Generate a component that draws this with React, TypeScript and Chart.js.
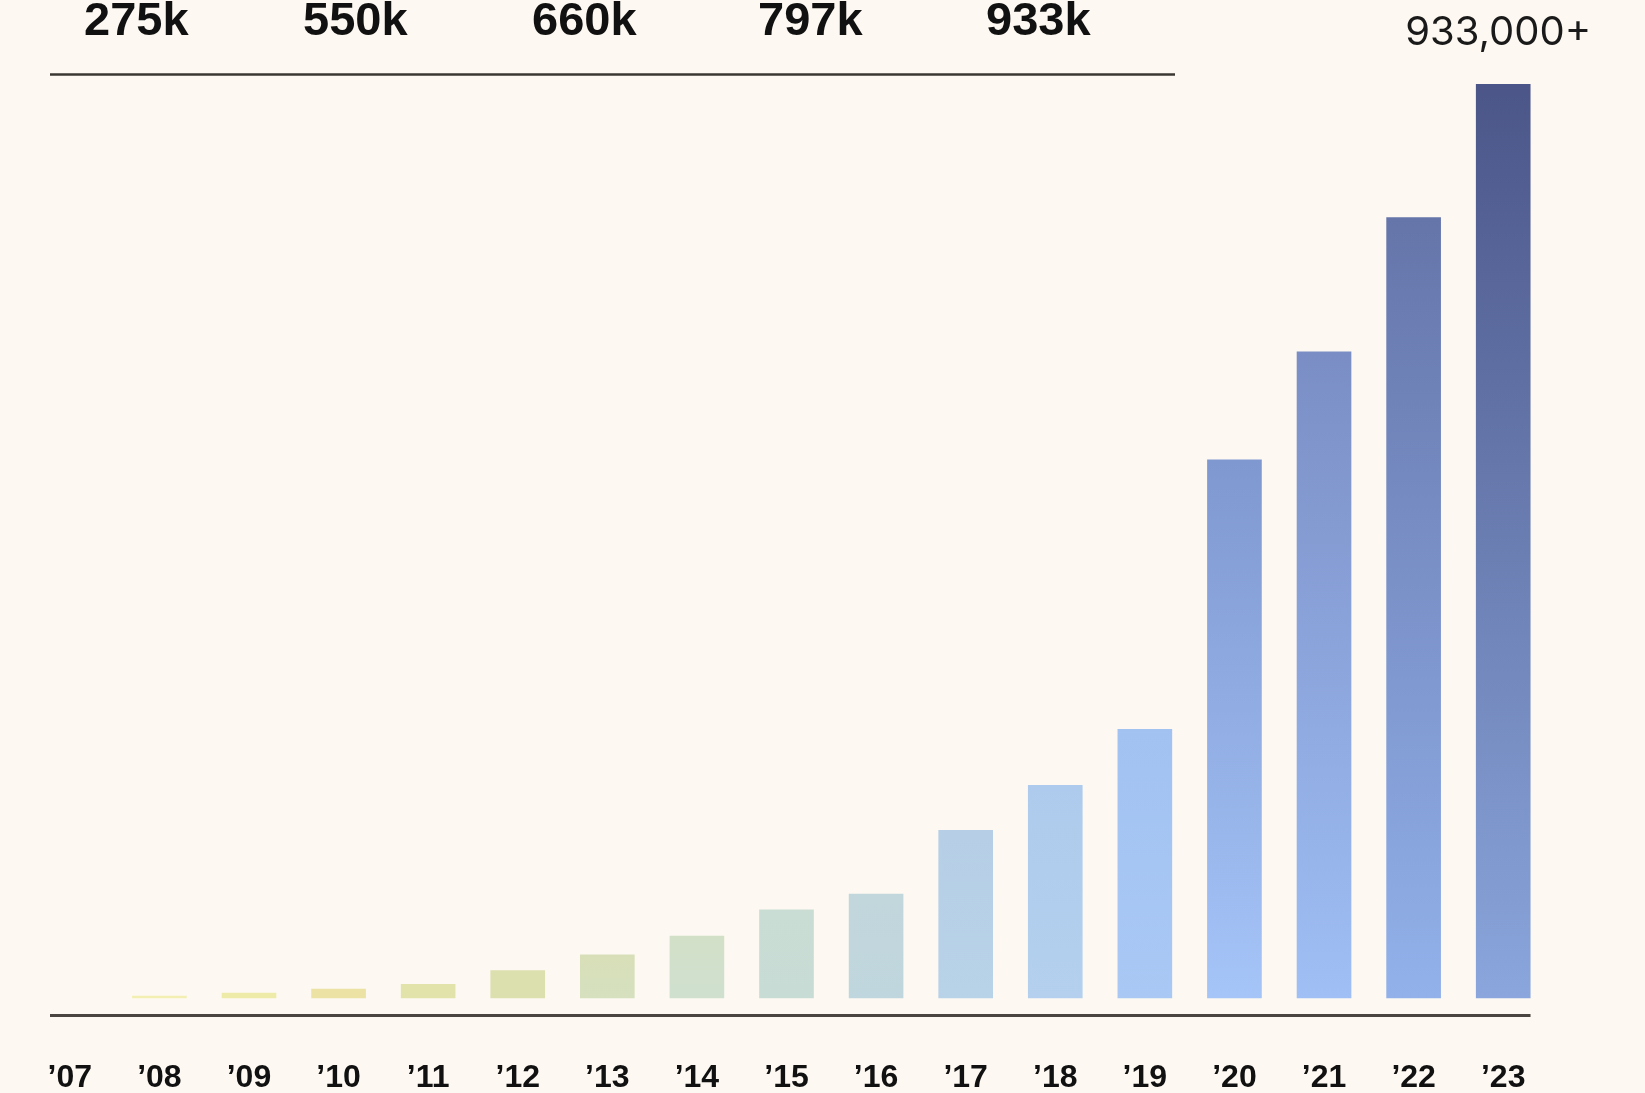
import { useEffect, useRef } from 'react';
import { Chart, registerables } from 'chart.js';

Chart.register(...registerables);

// ---- data ----
const years = ['’07', '’08', '’09', '’10', '’11', '’12', '’13', '’14', '’15', '’16', '’17', '’18', '’19', '’20', '’21', '’22', '’23'];
// members, in thousands
const members = [0, 3, 6, 10, 15, 29, 45, 64, 91, 107, 172, 218, 275, 550, 660, 797, 933];
const milestones = ['275k', '550k', '660k', '797k', '933k'];
const totalLabel = '933,000+';

// ---- styles ----
const milestoneX = [84, 303, 532, 758, 986];
const bottomColors = ['#f8f4c0', '#f3efb2', '#eeeaa8', '#ebe2a3', '#e2e3ab', '#dcdfae', '#d6e0bf', '#cfe0cf', '#c8dcd6', '#c0d6de', '#b8d2e8', '#b4d0ee', '#a9c8f4', '#a5c4f8', '#9fbff5', '#92b1ea', '#8aa6dc'];
const topColors = ['#f8f4c0', '#f3efb2', '#eeeaa8', '#ebe2a3', '#e2e3ab', '#dcdfae', '#d8dfb8', '#d3e0c8', '#c9ddd4', '#c2d7dc', '#b6cfe6', '#aecbed', '#a2c2f2', '#7f98d0', '#7a8ec5', '#6575aa', '#4b5588'];
const BG = '#fdf9f2';

export default function App() {
  const ref = useRef<HTMLCanvasElement | null>(null);

  useEffect(() => {
    const canvas = ref.current;
    if (!canvas) return;
    document.body.style.margin = '0';
    document.body.style.background = BG;

    const decor = {
      id: 'decor',
      beforeDraw(chart: any) {
        const { ctx, width, height } = chart;
        ctx.save();
        ctx.fillStyle = BG;
        ctx.fillRect(0, 0, width, height);
        ctx.restore();
      },
      afterDraw(chart: any) {
        const { ctx, chartArea } = chart;
        const meta = chart.getDatasetMeta(0);
        const last = meta.data[meta.data.length - 1];
        ctx.save();
        // top rule
        ctx.strokeStyle = '#3a3632';
        ctx.lineWidth = 2.5;
        ctx.beginPath();
        ctx.moveTo(50, 74.5);
        ctx.lineTo(1175, 74.5);
        ctx.stroke();
        // baseline
        ctx.lineWidth = 3;
        ctx.strokeStyle = '#4a4540';
        const by = chartArea.bottom + 17;
        ctx.beginPath();
        ctx.moveTo(50, by);
        ctx.lineTo(last.x + last.width / 2, by);
        ctx.stroke();
        // milestones
        ctx.fillStyle = '#111111';
        ctx.font = 'bold 47px "Liberation Sans", Arial, sans-serif';
        ctx.textAlign = 'left';
        ctx.textBaseline = 'middle';
        milestones.forEach((m, i) => {
          ctx.fillText(m, milestoneX[i], 22);
        });
        // total label
        ctx.font = '40px Inter, "Liberation Sans", sans-serif';
        ctx.textAlign = 'center';
        ctx.fillStyle = '#1a1a1a';
        ctx.fillText(totalLabel, last.x - 5, 33);
        ctx.restore();
      },
    };

    const chart = new Chart(canvas, {
      type: 'bar',
      data: {
        labels: years,
        datasets: [
          {
            data: members,
            borderWidth: 0,
            categoryPercentage: 1,
            barPercentage: 0.61,
            backgroundColor: (c: any) => {
              const i = c.dataIndex;
              const chart = c.chart;
              const ys = chart.scales?.y;
              if (!chart.chartArea || !ys || i === undefined) return bottomColors[i ?? 0];
              const y0 = ys.getPixelForValue(0);
              const y1 = ys.getPixelForValue(members[i]);
              if (y0 - y1 < 2) return bottomColors[i];
              const g = chart.ctx.createLinearGradient(0, y0, 0, y1);
              g.addColorStop(0, bottomColors[i]);
              g.addColorStop(1, topColors[i]);
              return g;
            },
          },
        ],
      },
      options: {
        responsive: false,
        animation: false,
        devicePixelRatio: 1,
        layout: { padding: { top: 18.3, left: 25, right: 97, bottom: 0 } },
        plugins: { legend: { display: false }, tooltip: { enabled: false } },
        scales: {
          y: { display: false, min: 0, max: 1000 },
          x: {
            grid: { display: false },
            border: { display: false },
            ticks: {
              color: '#111111',
              padding: 52,
              font: { family: '"Liberation Sans", Arial, sans-serif', weight: 'bold', size: 32 },
              maxRotation: 0,
              autoSkip: false,
            },
            afterFit: (s: any) => {
              s.height = 94.4;
              s.paddingLeft = 0;
              s.paddingRight = 0;
            },
          },
        },
      },
      plugins: [decor],
    });
    return () => chart.destroy();
  }, []);

  return (
    <div style={{ position: 'fixed', left: 0, top: 0, width: 1645, height: 1093, background: BG }}>
      <canvas ref={ref} width={1645} height={1093} style={{ display: 'block' }} />
    </div>
  );
}
